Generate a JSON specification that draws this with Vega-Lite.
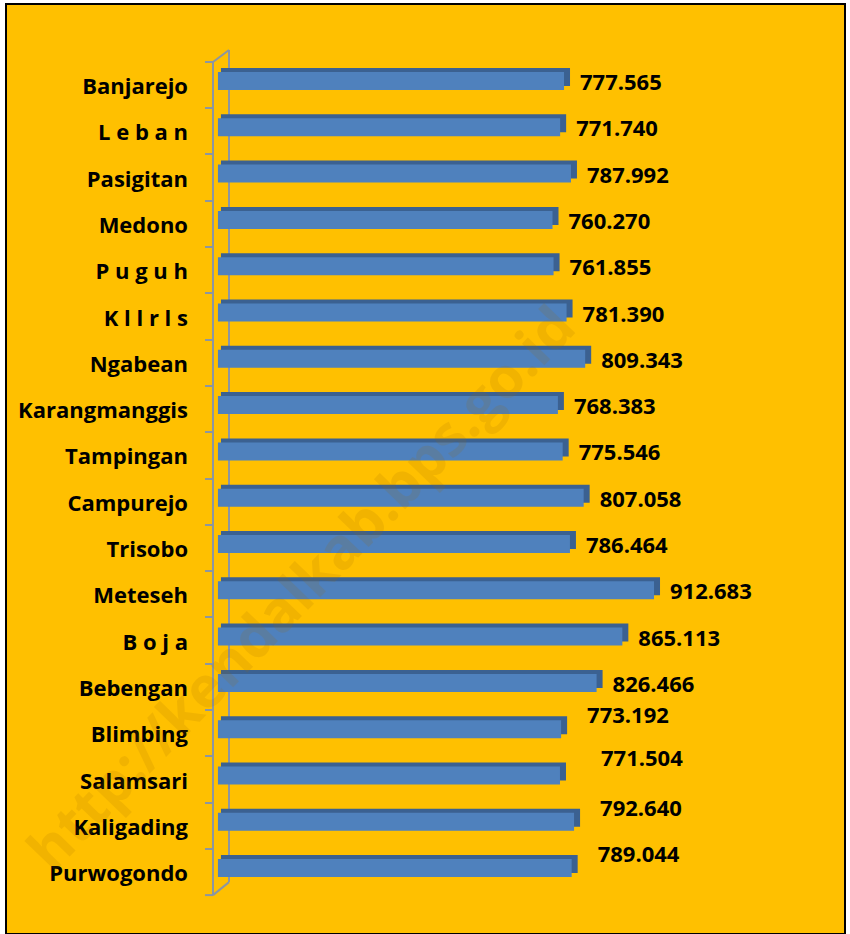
{
  "$schema": "https://vega.github.io/schema/vega-lite/v6.json",
  "autosize": "none",
  "padding": {"left": 6, "top": 4, "right": 5, "bottom": 0},
  "width": 839,
  "height": 930,
  "background": "white",
  "config": {
    "view": {"fill": "#FFC000", "stroke": "#000000", "strokeWidth": 2}
  },
  "data": {
    "values": [
      {"desa": "Banjarejo", "nilai": 777.565},
      {"desa": "L e b a n", "nilai": 771.740},
      {"desa": "Pasigitan", "nilai": 787.992},
      {"desa": "Medono", "nilai": 760.270},
      {"desa": "P u g u h", "nilai": 761.855},
      {"desa": "K l l r l s", "nilai": 781.390},
      {"desa": "Ngabean", "nilai": 809.343},
      {"desa": "Karangmanggis", "nilai": 768.383},
      {"desa": "Tampingan", "nilai": 775.546},
      {"desa": "Campurejo", "nilai": 807.058},
      {"desa": "Trisobo", "nilai": 786.464},
      {"desa": "Meteseh", "nilai": 912.683},
      {"desa": "B o j a", "nilai": 865.113},
      {"desa": "Bebengan", "nilai": 826.466},
      {"desa": "Blimbing", "nilai": 773.192},
      {"desa": "Salamsari", "nilai": 771.504},
      {"desa": "Kaligading", "nilai": 792.640},
      {"desa": "Purwogondo", "nilai": 789.044}
    ]
  },
  "encoding": {
    "y": {
      "field": "desa",
      "type": "nominal",
      "sort": null,
      "scale": {
        "domain": ["Banjarejo", "L e b a n", "Pasigitan", "Medono", "P u g u h", "K l l r l s", "Ngabean", "Karangmanggis", "Tampingan", "Campurejo", "Trisobo", "Meteseh", "B o j a", "Bebengan", "Blimbing", "Salamsari", "Kaligading", "Purwogondo"],
        "range": [53.85, 887.25],
        "paddingInner": 0.611,
        "paddingOuter": 0.3055,
        "round": false
      },
      "axis": {
        "title": null,
        "orient": "left",
        "offset": -203,
        "translate": 4,
        "domainColor": "#8C96A2",
        "domainWidth": 2,
        "tickColor": "#8C96A2",
        "tickWidth": 2,
        "tickSize": 8,
        "tickOffset": -23.15,
        "labelFont": "Open Sans",
        "labelFontWeight": "bold",
        "labelFontSize": 22,
        "labelColor": "#000000",
        "labelPadding": 17,
        "labelOffset": 25.15,
        "labelLimit": 400
      }
    },
    "x": {
      "field": "nilai",
      "type": "quantitative",
      "scale": {"domain": [-60.2, 1199.4], "nice": false, "zero": false},
      "axis": null
    }
  },
  "layer": [
    {
      "transform": [{"filter": {"field": "desa", "equal": "Banjarejo"}}],
      "mark": {"type": "rule", "color": "#8C96A2", "strokeWidth": 2, "yOffset": -31, "y2Offset": 14},
      "encoding": {
        "x": {"datum": 274.6, "type": "quantitative"},
        "y": {"datum": "Banjarejo", "type": "nominal"},
        "y2": {"datum": "Purwogondo"}
      }
    },
    {
      "transform": [{"filter": {"field": "desa", "equal": "Banjarejo"}}],
      "mark": {"type": "rule", "color": "#8C96A2", "strokeWidth": 2, "yOffset": -19, "y2Offset": -31},
      "encoding": {
        "x": {"datum": 250.6, "type": "quantitative"},
        "x2": {"datum": 274.6},
        "y": {"datum": "Banjarejo", "type": "nominal"},
        "y2": {"datum": "Banjarejo"}
      }
    },
    {
      "transform": [{"filter": {"field": "desa", "equal": "Banjarejo"}}],
      "mark": {"type": "rule", "color": "#8C96A2", "strokeWidth": 2, "yOffset": 27, "y2Offset": 14},
      "encoding": {
        "x": {"datum": 250.6, "type": "quantitative"},
        "x2": {"datum": 274.6},
        "y": {"datum": "Purwogondo", "type": "nominal"},
        "y2": {"datum": "Purwogondo"}
      }
    },
    {
      "transform": [{"filter": {"field": "desa", "equal": "Banjarejo"}}],
      "mark": {"type": "rule", "color": "#8C96A2", "strokeWidth": 2, "yOffset": 27, "y2Offset": 27},
      "encoding": {
        "x": {"datum": 238.6, "type": "quantitative"},
        "x2": {"datum": 250.6},
        "y": {"datum": "Purwogondo", "type": "nominal"},
        "y2": {"datum": "Purwogondo"}
      }
    },
    {
      "mark": {"type": "bar", "color": "#3B6191", "xOffset": 6, "x2Offset": 3, "yOffset": -4},
      "encoding": {"x2": {"datum": 258}}
    },
    {
      "mark": {"type": "bar", "color": "#4F81BD"},
      "encoding": {"x2": {"datum": 258}}
    },
    {
      "transform": [{"filter": {"field": "desa", "equal": "Banjarejo"}}],
      "mark": {"type": "text", "font": "Open Sans", "fontWeight": "bold", "fontSize": 57, "angle": -46, "align": "center", "baseline": "middle", "color": "#A06A00", "opacity": 0.14},
      "encoding": {
        "x": {"datum": 386, "type": "quantitative"},
        "y": {"datum": "Meteseh", "type": "nominal"},
        "text": {"value": "http://kendalkab.bps.go.id"}
      }
    },
    {
      "transform": [{"filter": {"not": {"field": "desa", "oneOf": ["Blimbing", "Salamsari", "Kaligading", "Purwogondo"]}}}],
      "mark": {"type": "text", "font": "Open Sans", "fontWeight": "bold", "fontSize": 22, "align": "left", "baseline": "middle", "dx": 16, "dy": 2, "color": "#000000"},
      "encoding": {"text": {"field": "nilai", "type": "quantitative", "format": ".3f"}}
    },
    {
      "transform": [{"filter": {"field": "desa", "oneOf": ["Blimbing", "Kaligading", "Purwogondo"]}}],
      "mark": {"type": "text", "font": "Open Sans", "fontWeight": "bold", "fontSize": 22, "align": "left", "baseline": "middle", "dx": 26, "dy": -13, "color": "#000000"},
      "encoding": {"text": {"field": "nilai", "type": "quantitative", "format": ".3f"}}
    },
    {
      "transform": [{"filter": {"field": "desa", "oneOf": ["Salamsari"]}}],
      "mark": {"type": "text", "font": "Open Sans", "fontWeight": "bold", "fontSize": 22, "align": "left", "baseline": "middle", "dx": 41, "dy": -17, "color": "#000000"},
      "encoding": {"text": {"field": "nilai", "type": "quantitative", "format": ".3f"}}
    }
  ]
}
